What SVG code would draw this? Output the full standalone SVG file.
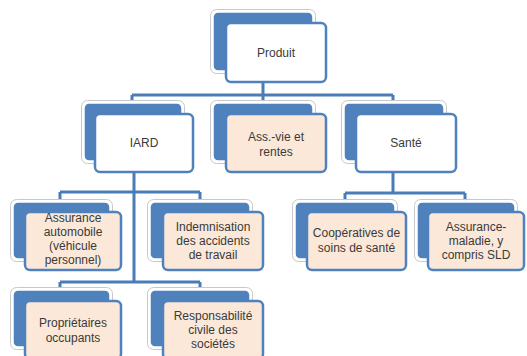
<svg xmlns="http://www.w3.org/2000/svg" width="527" height="356" viewBox="0 0 527 356">
<style>
.bk{fill:#4F81BD;stroke:#fff;stroke-width:1.5}
.halo{fill:#fff;stroke:#c8c8c8;stroke-width:1}
.fw{fill:#fff;stroke:#4F81BD;stroke-width:2.5}
.fp{fill:#FBE8D8;stroke:#4F81BD;stroke-width:2.5}
.c{fill:none;stroke:#4A7CB8;stroke-width:3}
text{font-family:"Liberation Sans",Arial,sans-serif;font-size:12px;fill:#3a3a3a;text-anchor:middle}
</style>
<rect width="527" height="356" fill="#fff"/>
<g id="connectors">
<path class="c" d="M263,82V95M132,95H393M132,95V103M263,95V103M393,95V103"/>
<path class="c" d="M134,172V282M60,192H200M60,192V202M200,192V202M60,282H200M60,282V290M200,282V290"/>
<path class="c" d="M393,172V193M345,193H465M345,193V202M465,193V202"/>
</g>
<g id="produit">
<rect class="halo" x="210.5" y="9.5" width="105" height="64" rx="6"/>
<rect class="bk" x="213" y="12" width="100" height="59" rx="5"/>
<rect class="fw" x="226" y="23" width="100" height="59" rx="5"/>
<text x="276" y="56.5">Produit</text>
</g>
<g id="iard">
<rect class="halo" x="81.5" y="100.5" width="103" height="63" rx="6"/>
<rect class="bk" x="84" y="103" width="98" height="58" rx="5"/>
<rect class="fw" x="95" y="114" width="98" height="58" rx="5"/>
<text x="144" y="147">IARD</text>
</g>
<g id="assvie">
<rect class="halo" x="210.5" y="100.5" width="105" height="63" rx="6"/>
<rect class="bk" x="213" y="103" width="100" height="58" rx="5"/>
<rect class="fp" x="226" y="114" width="100" height="58" rx="5"/>
<text x="276" y="141">Ass.-vie et</text>
<text x="276" y="156">rentes</text>
</g>
<g id="sante">
<rect class="halo" x="341.5" y="100.5" width="105" height="63" rx="6"/>
<rect class="bk" x="344" y="103" width="100" height="58" rx="5"/>
<rect class="fw" x="356" y="114" width="100" height="58" rx="5"/>
<text x="406" y="147">Santé</text>
</g>
<g id="auto">
<rect class="halo" x="10.5" y="199.5" width="102" height="62" rx="6"/>
<rect class="bk" x="13" y="202" width="97" height="57" rx="5"/>
<rect class="fp" x="25" y="212" width="96" height="58" rx="5"/>
<text x="73" y="222">Assurance</text>
<text x="73" y="236">automobile</text>
<text x="73" y="250">(véhicule</text>
<text x="73" y="264">personnel)</text>
</g>
<g id="indemnisation">
<rect class="halo" x="147.5" y="199.5" width="105" height="62" rx="6"/>
<rect class="bk" x="150" y="202" width="100" height="57" rx="5"/>
<rect class="fp" x="163" y="212" width="100" height="58" rx="5"/>
<text x="213" y="231">Indemnisation</text>
<text x="213" y="245">des accidents</text>
<text x="213" y="259">de travail</text>
</g>
<g id="cooperatives">
<rect class="halo" x="292.5" y="199.5" width="105" height="62" rx="6"/>
<rect class="bk" x="295" y="202" width="100" height="57" rx="5"/>
<rect class="fp" x="307" y="212" width="99" height="58" rx="5"/>
<text x="356.5" y="237">Coopératives de</text>
<text x="356.5" y="252">soins de santé</text>
</g>
<g id="maladie">
<rect class="halo" x="414.5" y="199.5" width="103" height="62" rx="6"/>
<rect class="bk" x="417" y="202" width="98" height="57" rx="5"/>
<rect class="fp" x="428" y="212" width="96" height="58" rx="5"/>
<text x="476" y="231">Assurance-</text>
<text x="476" y="245">maladie, y</text>
<text x="476" y="259">compris SLD</text>
</g>
<g id="proprietaires">
<rect class="halo" x="10.5" y="287.5" width="102" height="62" rx="6"/>
<rect class="bk" x="13" y="290" width="97" height="57" rx="5"/>
<rect class="fp" x="25" y="301" width="96" height="58" rx="5"/>
<text x="73" y="327">Propriétaires</text>
<text x="73" y="342">occupants</text>
</g>
<g id="responsabilite">
<rect class="halo" x="147.5" y="287.5" width="105" height="62" rx="6"/>
<rect class="bk" x="150" y="290" width="100" height="57" rx="5"/>
<rect class="fp" x="163" y="301" width="100" height="58" rx="5"/>
<text x="213" y="320">Responsabilité</text>
<text x="213" y="334">civile des</text>
<text x="213" y="348">sociétés</text>
</g>
</svg>
